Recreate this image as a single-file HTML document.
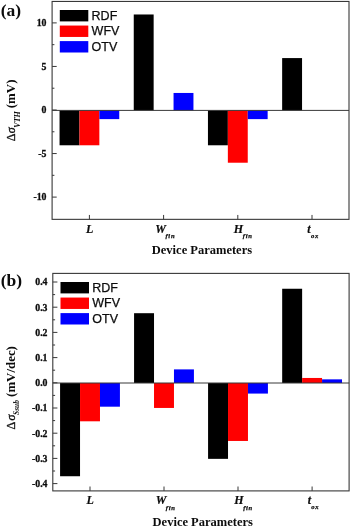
<!DOCTYPE html>
<html lang="en"><head><meta charset="utf-8"><title>Device parameter sensitivity</title>
<style>
html,body{margin:0;padding:0;background:#fff;}
body{width:350px;height:527px;overflow:hidden;}
svg{display:block;}
text{fill:#0c0c0c;}
.tk{font:bold 9.8px "Liberation Serif", "DejaVu Serif", serif;stroke:#0c0c0c;stroke-width:0.3px;}
.xl{font:italic bold 12px "Liberation Serif", "DejaVu Serif", serif;stroke:#0c0c0c;stroke-width:0.2px;}
.sub{font:italic bold 6.6px "Liberation Serif", "DejaVu Serif", serif;letter-spacing:0.7px;stroke-width:0.25px;}
.ttl{font:bold 12.5px "Liberation Serif", "DejaVu Serif", serif;}
.tag{font:bold 17.5px "Liberation Serif", "DejaVu Serif", serif;}
.lg{font:12.5px "Liberation Sans", "DejaVu Sans", sans-serif;stroke:#0c0c0c;stroke-width:0.25px;}
.yl{font:bold 12.9px "Liberation Serif", "DejaVu Serif", serif;}
.yd{font:12px "Liberation Serif", "DejaVu Serif", serif;stroke:#0c0c0c;stroke-width:0.35px;}
.ys{font:italic 12px "Liberation Serif", "DejaVu Serif", serif;stroke:#0c0c0c;stroke-width:0.35px;}
.ysub{font:italic bold 8px "Liberation Serif", "DejaVu Serif", serif;}
</style></head>
<body>
<svg width="350" height="527" viewBox="0 0 350 527">
<rect width="350" height="527" fill="#ffffff"/>
<rect x="59.55" y="110.4" width="19.9" height="34.88" fill="#000000"/>
<rect x="79.45" y="110.4" width="19.9" height="34.88" fill="#ff0000"/>
<rect x="99.35" y="110.4" width="19.9" height="8.72" fill="#0000ff"/>
<rect x="133.75" y="14.48" width="19.9" height="95.92" fill="#000000"/>
<rect x="173.55" y="92.96" width="19.9" height="17.44" fill="#0000ff"/>
<rect x="207.95" y="110.4" width="19.9" height="34.88" fill="#000000"/>
<rect x="227.85" y="110.4" width="19.9" height="52.32" fill="#ff0000"/>
<rect x="247.75" y="110.4" width="19.9" height="8.72" fill="#0000ff"/>
<rect x="282.15" y="58.08" width="19.9" height="52.32" fill="#000000"/>
<line x1="52.1" y1="110.4" x2="349.0" y2="110.4" stroke="#383838" stroke-width="1"/>
<rect x="52.1" y="1.45" width="296.9" height="217.9" fill="none" stroke="#383838" stroke-width="1.1"/>
<line x1="52.1" y1="22.9" x2="56.7" y2="22.9" stroke="#383838" stroke-width="1"/>
<text x="46.5" y="26.2" text-anchor="end" class="tk">10</text>
<line x1="52.1" y1="66.45" x2="56.7" y2="66.45" stroke="#383838" stroke-width="1"/>
<text x="46.5" y="69.75" text-anchor="end" class="tk">5</text>
<line x1="52.1" y1="110" x2="56.7" y2="110" stroke="#383838" stroke-width="1"/>
<text x="46.5" y="113.3" text-anchor="end" class="tk">0</text>
<line x1="52.1" y1="153.55" x2="56.7" y2="153.55" stroke="#383838" stroke-width="1"/>
<text x="46.5" y="156.85" text-anchor="end" class="tk">-5</text>
<line x1="52.1" y1="197.1" x2="56.7" y2="197.1" stroke="#383838" stroke-width="1"/>
<text x="46.5" y="200.4" text-anchor="end" class="tk">-10</text>
<line x1="52.1" y1="44.67" x2="54.4" y2="44.67" stroke="#383838" stroke-width="1"/>
<line x1="52.1" y1="88.22" x2="54.4" y2="88.22" stroke="#383838" stroke-width="1"/>
<line x1="52.1" y1="131.78" x2="54.4" y2="131.78" stroke="#383838" stroke-width="1"/>
<line x1="52.1" y1="175.32" x2="54.4" y2="175.32" stroke="#383838" stroke-width="1"/>
<line x1="89.4" y1="219.35" x2="89.4" y2="214.95" stroke="#383838" stroke-width="1"/>
<line x1="163.6" y1="219.35" x2="163.6" y2="214.95" stroke="#383838" stroke-width="1"/>
<line x1="237.8" y1="219.35" x2="237.8" y2="214.95" stroke="#383838" stroke-width="1"/>
<line x1="312" y1="219.35" x2="312" y2="214.95" stroke="#383838" stroke-width="1"/>
<text x="86.1" y="232.5" class="xl">L</text>
<text x="155.3" y="232.5" class="xl">W<tspan class="sub" dx="-0.5" dy="5.5">fin</tspan></text>
<text x="233.8" y="232.5" class="xl">H<tspan class="sub" dx="-0.4" dy="5.5">fin</tspan></text>
<text x="307.3" y="232.5" class="xl">t<tspan class="sub" dx="0.3" dy="5.2">ox</tspan></text>
<text x="151.8" y="253.9" class="ttl">Device Parameters</text>
<text x="0.8" y="15.7" class="tag">(a)</text>
<rect x="59.8" y="10" width="28.5" height="11.4" fill="#000000"/>
<text x="91.6" y="20" class="lg">RDF</text>
<rect x="59.8" y="25.55" width="28.5" height="11.4" fill="#ff0000"/>
<text x="91.6" y="35.4" class="lg">WFV</text>
<rect x="59.8" y="41.1" width="28.5" height="11.4" fill="#0000ff"/>
<text x="91.6" y="50.8" class="lg">OTV</text>
<g transform="translate(15.2 141.3) rotate(-90)"><text x="0.1" y="0" class="yd">Δ</text><text x="8.0" y="0" class="ys">σ</text><text x="13.6" y="4.7" class="ysub" style="font-size:8px">VTH</text><text x="33.1" y="-0.4" class="yl">(mV)</text></g>
<rect x="60.08" y="383" width="19.95" height="93.24" fill="#000000"/>
<rect x="80.03" y="383" width="19.95" height="38.3" fill="#ff0000"/>
<rect x="99.97" y="383" width="19.95" height="23.69" fill="#0000ff"/>
<rect x="134.07" y="313.2" width="19.95" height="69.8" fill="#000000"/>
<rect x="154.02" y="383" width="19.95" height="24.95" fill="#ff0000"/>
<rect x="173.97" y="369.39" width="19.95" height="13.61" fill="#0000ff"/>
<rect x="208.07" y="383" width="19.95" height="75.85" fill="#000000"/>
<rect x="228.02" y="383" width="19.95" height="57.96" fill="#ff0000"/>
<rect x="247.97" y="383" width="19.95" height="10.58" fill="#0000ff"/>
<rect x="282.18" y="288.75" width="19.95" height="94.25" fill="#000000"/>
<rect x="302.12" y="377.96" width="19.95" height="5.04" fill="#ff0000"/>
<rect x="322.07" y="379.35" width="19.95" height="3.65" fill="#0000ff"/>
<line x1="52.8" y1="383.0" x2="349.1" y2="383.0" stroke="#383838" stroke-width="1"/>
<rect x="52.8" y="273.4" width="296.3" height="217.5" fill="none" stroke="#383838" stroke-width="1.1"/>
<line x1="52.8" y1="282" x2="57.4" y2="282" stroke="#383838" stroke-width="1"/>
<text x="47.5" y="285.3" text-anchor="end" class="tk">0.4</text>
<line x1="52.8" y1="307.2" x2="57.4" y2="307.2" stroke="#383838" stroke-width="1"/>
<text x="47.5" y="310.5" text-anchor="end" class="tk">0.3</text>
<line x1="52.8" y1="332.4" x2="57.4" y2="332.4" stroke="#383838" stroke-width="1"/>
<text x="47.5" y="335.7" text-anchor="end" class="tk">0.2</text>
<line x1="52.8" y1="357.6" x2="57.4" y2="357.6" stroke="#383838" stroke-width="1"/>
<text x="47.5" y="360.9" text-anchor="end" class="tk">0.1</text>
<line x1="52.8" y1="382.8" x2="57.4" y2="382.8" stroke="#383838" stroke-width="1"/>
<text x="47.5" y="386.1" text-anchor="end" class="tk">0.0</text>
<line x1="52.8" y1="408" x2="57.4" y2="408" stroke="#383838" stroke-width="1"/>
<text x="47.5" y="411.3" text-anchor="end" class="tk">-0.1</text>
<line x1="52.8" y1="433.2" x2="57.4" y2="433.2" stroke="#383838" stroke-width="1"/>
<text x="47.5" y="436.5" text-anchor="end" class="tk">-0.2</text>
<line x1="52.8" y1="458.4" x2="57.4" y2="458.4" stroke="#383838" stroke-width="1"/>
<text x="47.5" y="461.7" text-anchor="end" class="tk">-0.3</text>
<line x1="52.8" y1="483.6" x2="57.4" y2="483.6" stroke="#383838" stroke-width="1"/>
<text x="47.5" y="486.9" text-anchor="end" class="tk">-0.4</text>
<line x1="52.8" y1="294.6" x2="55.1" y2="294.6" stroke="#383838" stroke-width="1"/>
<line x1="52.8" y1="319.8" x2="55.1" y2="319.8" stroke="#383838" stroke-width="1"/>
<line x1="52.8" y1="345" x2="55.1" y2="345" stroke="#383838" stroke-width="1"/>
<line x1="52.8" y1="370.2" x2="55.1" y2="370.2" stroke="#383838" stroke-width="1"/>
<line x1="52.8" y1="395.4" x2="55.1" y2="395.4" stroke="#383838" stroke-width="1"/>
<line x1="52.8" y1="420.6" x2="55.1" y2="420.6" stroke="#383838" stroke-width="1"/>
<line x1="52.8" y1="445.8" x2="55.1" y2="445.8" stroke="#383838" stroke-width="1"/>
<line x1="52.8" y1="471" x2="55.1" y2="471" stroke="#383838" stroke-width="1"/>
<line x1="90" y1="490.9" x2="90" y2="486.5" stroke="#383838" stroke-width="1"/>
<line x1="164" y1="490.9" x2="164" y2="486.5" stroke="#383838" stroke-width="1"/>
<line x1="238" y1="490.9" x2="238" y2="486.5" stroke="#383838" stroke-width="1"/>
<line x1="312.1" y1="490.9" x2="312.1" y2="486.5" stroke="#383838" stroke-width="1"/>
<text x="86.5" y="504" class="xl">L</text>
<text x="155.7" y="504" class="xl">W<tspan class="sub" dx="-0.5" dy="5.5">fin</tspan></text>
<text x="234.2" y="504" class="xl">H<tspan class="sub" dx="-0.4" dy="5.5">fin</tspan></text>
<text x="307.7" y="504" class="xl">t<tspan class="sub" dx="0.3" dy="5.2">ox</tspan></text>
<text x="152.6" y="525.7" class="ttl">Device Parameters</text>
<text x="0.8" y="286.2" class="tag">(b)</text>
<rect x="60.5" y="282" width="28.5" height="11.4" fill="#000000"/>
<text x="92.3" y="291.8" class="lg">RDF</text>
<rect x="60.5" y="297.55" width="28.5" height="11.4" fill="#ff0000"/>
<text x="92.3" y="307.2" class="lg">WFV</text>
<rect x="60.5" y="313.1" width="28.5" height="11.4" fill="#0000ff"/>
<text x="92.3" y="322.6" class="lg">OTV</text>
<g transform="translate(15.2 429.6) rotate(-90)"><text x="0.1" y="0" class="yd">Δ</text><text x="9.0" y="0" class="ys">σ</text><text x="14.7" y="3.9" class="ysub" style="font-size:7.4px">Ssub</text><text x="32.7" y="-0.4" class="yl">(mV/dec)</text></g>
</svg>
</body></html>
